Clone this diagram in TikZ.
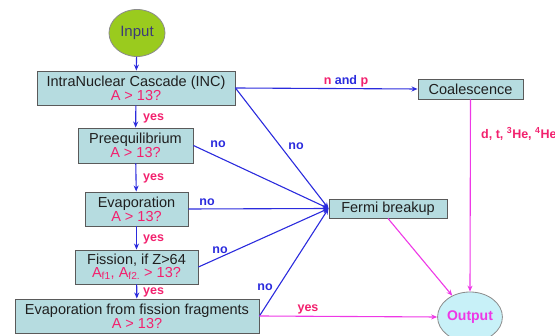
\documentclass[tikz,border=0pt]{standalone}
\usepackage{fontspec}
\setmainfont{Liberation Sans}
\usetikzlibrary{arrows.meta,shapes.geometric}
\definecolor{boxfill}{HTML}{B6DCE0}
\definecolor{boxedge}{HTML}{5A5A5A}
\definecolor{flowblue}{HTML}{2B2BDD}
\definecolor{flowmag}{HTML}{EE38E6}
\definecolor{lblpink}{HTML}{F2216E}
\definecolor{inputgreen}{HTML}{9ACB1E}
\definecolor{inputtext}{HTML}{3C3C78}
\definecolor{outfill}{HTML}{C8F1F8}
\tikzset{
  stagebox/.style={draw=boxedge, line width=0.9pt, fill=boxfill, inner sep=0pt, align=center,
    font=\fontsize{14.5}{13}\selectfont, text=black!88},
  bluearrow/.style={draw=flowblue, line width=1.1pt, -{Stealth[length=6pt,width=5pt]}},
  magarrow/.style={draw=flowmag, line width=1.1pt, -{Stealth[length=6pt,width=5pt]}},
  lbl/.style={font=\bfseries\fontsize{12.5}{12.5}\selectfont, inner sep=0pt},
  yeslbl/.style={lbl, text=lblpink},
  nolbl/.style={lbl, text=flowblue},
}
\newcommand{\red}[1]{\textcolor{lblpink}{#1}}
\begin{document}
\begin{tikzpicture}[x=1pt,y=-1pt]
\useasboundingbox (0,0) rectangle (555,336);
% nodes
\node[ellipse, draw=boxedge!70, line width=0.8pt, fill=inputgreen, minimum width=56pt, minimum height=47pt,
  inner sep=0pt, text=inputtext, font=\fontsize{15}{15}\selectfont] (input) at (137,33) {Input};
\node[stagebox, minimum width=198pt, minimum height=34pt] (inc) at (136,88)
  {IntraNuclear Cascade (INC)\\\red{A > 13?}};
\node[stagebox, minimum width=115pt, minimum height=35pt] (pre) at (135.5,145.5)
  {Preequilibrium\\\red{A > 13?}};
\node[stagebox, minimum width=103pt, minimum height=34pt] (evap) at (136.5,209)
  {Evaporation\\\red{A > 13?}};
\node[stagebox, minimum width=123pt, minimum height=34pt] (fis) at (136.5,267)
  {Fission, if Z>64\\\red{A\textsubscript{f1}, A\textsubscript{f2.} > 13?}};
\node[stagebox, minimum width=244pt, minimum height=34pt] (eff) at (137,316)
  {Evaporation from fission fragments\\\red{A > 13?}};
\node[stagebox, minimum width=105pt, minimum height=20pt] (coal) at (470.5,89) {Coalescence};
\node[stagebox, minimum width=118pt, minimum height=19pt] (fermi) at (388,208.5) {Fermi breakup};
\node[ellipse, draw=boxedge!70, line width=0.8pt, fill=outfill, minimum width=56pt, minimum height=50pt,
  inner sep=0pt, text=flowmag, font=\bfseries\fontsize{14}{14}\selectfont] (out) at (470,317) {Output};
% vertical flow
\draw[bluearrow] (input) -- (inc);
\draw[bluearrow] (inc) -- (pre);
\draw[bluearrow] (pre) -- (evap);
\draw[bluearrow] (evap) -- (fis);
\draw[bluearrow] (fis) -- (eff);
% to Fermi breakup
\draw[bluearrow] (inc.east) -- (fermi.west);
\draw[bluearrow] (pre.east) -- (fermi.west);
\draw[bluearrow] (evap.east) -- (fermi.west);
\draw[bluearrow] (fis.east) -- (fermi.west);
\draw[bluearrow] (eff.east) -- (fermi.west);
% to coalescence
\draw[bluearrow] (inc.east) -- (coal.west);
% to output
\draw[magarrow] (coal.south) -- (out.north);
\draw[magarrow] (fermi.south) -- (out);
\draw[magarrow] (eff.east) -- (out.west);
% labels
\node[yeslbl, anchor=west] (y1) at (143,118) {yes};
\node[yeslbl, anchor=west] (y2) at (143,178) {yes};
\node[yeslbl, anchor=west] (y3) at (143,239) {yes};
\node[yeslbl, anchor=west] (y4) at (143,292) {yes};
\node[yeslbl] (y5) at (308,309) {yes};
\node[nolbl] (n1) at (296,146) {no};
\node[nolbl] (n2) at (218,144) {no};
\node[nolbl] (n3) at (207,202) {no};
\node[nolbl] (n4) at (220,250) {no};
\node[nolbl] (n5) at (265,287) {no};
\node[lbl, text=flowblue] (np) at (346,81) {\red{n} and \red{p}};
\node[yeslbl, anchor=west] (dt) at (481,134) {d, t, \textsuperscript{3}He, \textsuperscript{4}He};
\end{tikzpicture}
\end{document}
